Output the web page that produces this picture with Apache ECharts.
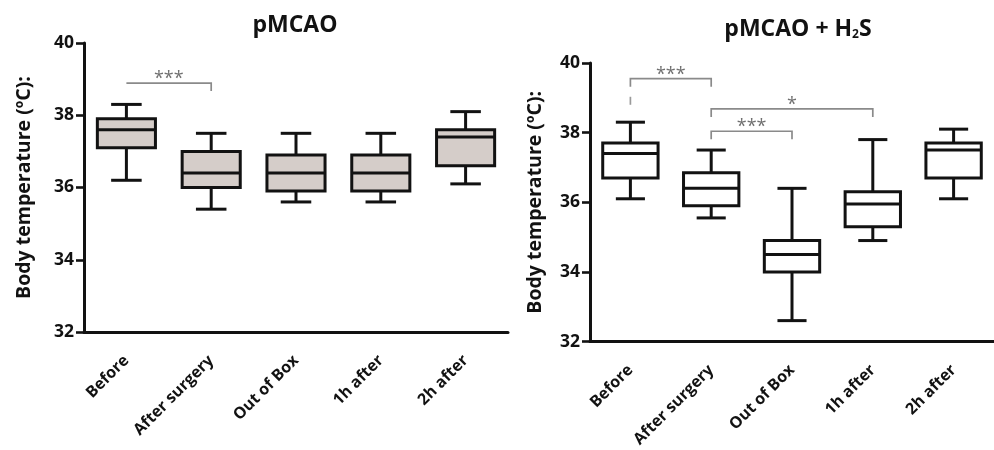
<!DOCTYPE html>
<html><head><meta charset="utf-8">
<script src="https://cdn.jsdelivr.net/npm/echarts@6/dist/echarts.min.js"></script>
<style>html,body{margin:0;padding:0;background:#fff}#c{width:994px;height:450px}</style>
</head><body><div id="c"></div>
<script>
// Categories (time points)
const categories = ['Before', 'After surgery', 'Out of Box', '1h after', '2h after'];
// Y-axis range/ticks
const yMin = 32, yMax = 40, yStep = 2;
// Box values per category: [min, Q1, median, Q3, max]
const pmcao = [
  [36.2, 37.1, 37.6, 37.9, 38.3],
  [35.4, 36.0, 36.4, 37.0, 37.5],
  [35.6, 35.9, 36.4, 36.9, 37.5],
  [35.6, 35.9, 36.4, 36.9, 37.5],
  [36.1, 36.6, 37.4, 37.6, 38.1]
];
const pmcaoH2S = [
  [36.1, 36.7, 37.4, 37.7, 38.3],
  [35.55, 35.9, 36.4, 36.85, 37.5],
  [32.6, 34.0, 34.5, 34.9, 36.4],
  [34.9, 35.3, 35.95, 36.3, 37.8],
  [36.1, 36.7, 37.5, 37.7, 38.1]
];
// Significance brackets: [fromIdx, toIdx, y value, label, dropLeft, dropRight]
const sigPmcao = [[0, 1, 38.89, '***', 0, 1]];
const sigH2S = [
  [0, 1, 39.55, '***', 1, 1],
  [1, 3, 38.68, '*', 1, 1],
  [1, 2, 38.04, '***', 1, 1]
];
// small leftover stub mark under first bracket (right panel): [idx, yTop, yBottom]
const stubH2S = [[0, 39.03, 38.8]];
// Titles
const titleLeft = 'pMCAO';
const yName = 'Body temperature (ºC):';

const FONT = '"Open Sans", Lato, sans-serif';
const INK = '#121212';
const LW = 3;

function boxRender(fill) {
  return function (params, api) {
    const x = api.value(0);
    const lo = api.coord([x, api.value(1)]);
    const q1 = api.coord([x, api.value(2)]);
    const md = api.coord([x, api.value(3)]);
    const q3 = api.coord([x, api.value(4)]);
    const hi = api.coord([x, api.value(5)]);
    const band = api.size([1, 0])[0];
    const bw = band * 0.685, cw = band * 0.36;
    const cx = lo[0];
    const st = { stroke: INK, lineWidth: LW, fill: null };
    return {
      type: 'group', children: [
        { type: 'line', shape: { x1: cx, y1: hi[1], x2: cx, y2: q3[1] }, style: st },
        { type: 'line', shape: { x1: cx, y1: q1[1], x2: cx, y2: lo[1] }, style: st },
        { type: 'line', shape: { x1: cx - cw / 2, y1: hi[1], x2: cx + cw / 2, y2: hi[1] }, style: st },
        { type: 'line', shape: { x1: cx - cw / 2, y1: lo[1], x2: cx + cw / 2, y2: lo[1] }, style: st },
        { type: 'rect', shape: { x: cx - bw / 2, y: q3[1], width: bw, height: q1[1] - q3[1] }, style: { fill: fill, stroke: INK, lineWidth: LW } },
        { type: 'line', shape: { x1: cx - bw / 2, y1: md[1], x2: cx + bw / 2, y2: md[1] }, style: st }
      ]
    };
  };
}

function sigRender(src) {
  return function (params, api) {
    const row = src[params.dataIndex];
    const a = api.coord([row[0], row[2]]);
    const b = api.coord([row[1], row[2]]);
    const drop = 8;
    const st = { stroke: '#8a8a8a', lineWidth: 1.7, fill: null };
    const pts = [
      [a[0], a[1] + (row[4] ? drop : 0)],
      [a[0], a[1]],
      [b[0], b[1]],
      [b[0], b[1] + (row[5] ? drop : 0)]
    ];
    return {
      type: 'group', children: [
        { type: 'polyline', shape: { points: pts }, style: st },
        { type: 'text', x: (a[0] + b[0]) / 2, y: a[1] + 5,
          style: { text: row[3], fill: '#707070', font: '18px ' + FONT, align: 'center', verticalAlign: 'bottom' } }
      ]
    };
  };
}

function stubRender(params, api) {
  const a = api.coord([api.value(0), api.value(1)]);
  const b = api.coord([api.value(0), api.value(2)]);
  return { type: 'line', shape: { x1: a[0], y1: a[1], x2: b[0], y2: b[1] }, style: { stroke: '#9a9a9a', lineWidth: 1.7 } };
}

const boxData = arr => arr.map((v, i) => [i].concat(v));
const sigData = arr => arr.map(s => [s[0], s[1], s[2]]);

function xAxis(gi) {
  return {
    type: 'category', gridIndex: gi, data: categories,
    axisLine: { lineStyle: { color: INK, width: LW } },
    axisTick: { alignWithLabel: true, length: 8, lineStyle: { color: INK, width: 2.6 } },
    axisLabel: { rotate: 45, margin: 26, color: INK, fontFamily: FONT, fontWeight: 'bold', fontSize: 16, interval: 0 },
    splitLine: { show: false }
  };
}
function yAxis(gi, gap) {
  return {
    type: 'value', gridIndex: gi, min: yMin, max: yMax, interval: yStep,
    name: yName, nameLocation: 'middle', nameRotate: 90, nameGap: gap,
    nameTextStyle: { color: INK, fontFamily: FONT, fontWeight: 'bold', fontSize: 19.5 },
    axisLine: { show: true, lineStyle: { color: INK, width: LW } },
    axisTick: { show: true, length: 8, lineStyle: { color: INK, width: 2.6 } },
    axisLabel: { margin: 10, color: INK, fontFamily: FONT, fontWeight: 'bold', fontSize: 17.5 },
    splitLine: { show: false }
  };
}

const chart = echarts.init(document.getElementById('c'), null, { renderer: 'canvas' });
chart.setOption({
  backgroundColor: '#fff',
  animation: false,
  grid: [
    { left: 84, top: 43, width: 424, height: 289 },
    { left: 590, top: 63, width: 411, height: 279 }
  ],
  xAxis: [xAxis(0), xAxis(1)],
  yAxis: [yAxis(0, 50), yAxis(1, 45)],
  graphic: [
    { type: 'text', x: 295, y: 25, style: { text: titleLeft, font: 'bold 23px ' + FONT, fill: INK, align: 'center', verticalAlign: 'middle' } },
    { type: 'text', x: 798, y: 29, style: {
      text: '{a|pMCAO + H}{s|2}{a|S}', align: 'center', verticalAlign: 'middle',
      rich: { a: { font: 'bold 23px ' + FONT, fill: INK, verticalAlign: 'bottom' }, s: { font: 'bold 12px ' + FONT, fill: INK, verticalAlign: 'bottom' } } } }
  ],
  series: [
    { type: 'custom', xAxisIndex: 0, yAxisIndex: 0, renderItem: boxRender('#d5cdc9'), data: boxData(pmcao), encode: { x: 0, y: [1, 2, 3, 4, 5] }, clip: false },
    { type: 'custom', xAxisIndex: 1, yAxisIndex: 1, renderItem: boxRender('#ffffff'), data: boxData(pmcaoH2S), encode: { x: 0, y: [1, 2, 3, 4, 5] }, clip: false },
    { type: 'custom', xAxisIndex: 0, yAxisIndex: 0, renderItem: sigRender(sigPmcao), data: sigData(sigPmcao), encode: { x: 0, y: 2 }, clip: false },
    { type: 'custom', xAxisIndex: 1, yAxisIndex: 1, renderItem: sigRender(sigH2S), data: sigData(sigH2S), encode: { x: 0, y: 2 }, clip: false },
    { type: 'custom', xAxisIndex: 1, yAxisIndex: 1, renderItem: stubRender, data: stubH2S, encode: { x: 0, y: [1, 2] }, clip: false }
  ]
});
</script>
</body></html>
